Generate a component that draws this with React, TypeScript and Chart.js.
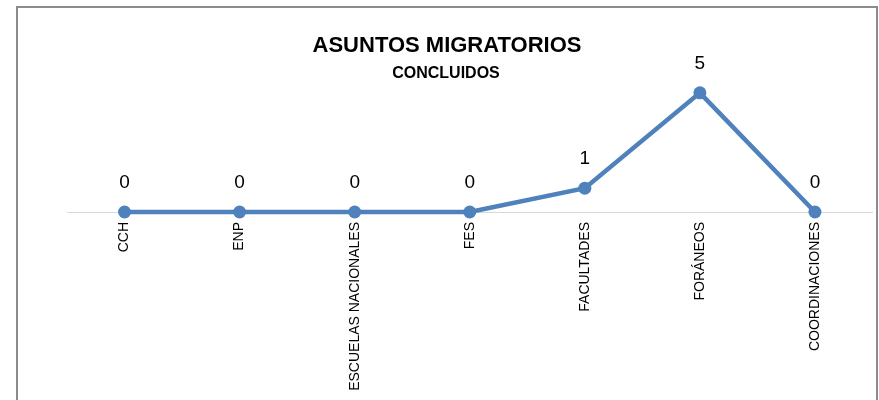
import React, { useEffect, useRef } from "react";
import { Chart, registerables } from "chart.js";

Chart.register(...registerables);

const categories = ["CCH", "ENP", "ESCUELAS NACIONALES", "FES", "FACULTADES", "FORÁNEOS", "COORDINACIONES"];
const values = [0, 0, 0, 0, 1, 5, 0];
const titleText = "ASUNTOS MIGRATORIOS";
const subtitleText = "CONCLUIDOS";

const FONT = "'Liberation Sans', Arial, sans-serif";
const BLUE = "#4F81BD";

const titlesPlugin = {
  id: "titles",
  afterDraw(chart: any) {
    const ctx = chart.ctx;
    ctx.save();
    ctx.fillStyle = "#000";
    ctx.textAlign = "center";
    ctx.textBaseline = "alphabetic";
    ctx.font = `bold 22px ${FONT}`;
    ctx.fillText(titleText, 447, 52);
    ctx.font = `bold 16px ${FONT}`;
    ctx.fillText(subtitleText, 446, 78);
    ctx.restore();
  },
};

const dataLabelsPlugin = {
  id: "dataLabels",
  afterDatasetsDraw(chart: any) {
    const ctx = chart.ctx;
    const meta = chart.getDatasetMeta(0);
    const data = chart.data.datasets[0].data;
    ctx.save();
    ctx.fillStyle = "#000";
    ctx.textAlign = "center";
    ctx.textBaseline = "alphabetic";
    ctx.font = `19px ${FONT}`;
    meta.data.forEach((pt: any, i: number) => {
      ctx.fillText(String(data[i]), pt.x, pt.y - 24);
    });
    ctx.restore();
  },
};

export default function App() {
  const ref = useRef<HTMLCanvasElement | null>(null);
  useEffect(() => {
    if (!ref.current) return;
    const chart = new Chart(ref.current, {
      type: "line",
      data: {
        labels: categories,
        datasets: [
          {
            data: values,
            borderColor: BLUE,
            backgroundColor: BLUE,
            borderWidth: 4.5,
            pointRadius: 6.5,
            pointHoverRadius: 6.5,
            pointBackgroundColor: BLUE,
            pointBorderColor: BLUE,
            pointBorderWidth: 0,
            tension: 0,
            clip: false as any,
          },
        ],
      },
      options: {
        responsive: false,
        animation: false,
        devicePixelRatio: 1,
        layout: { padding: { left: 67, right: 2, top: 69, bottom: 0 } },
        plugins: {
          legend: { display: false },
          title: { display: false },
          tooltip: { enabled: false },
        },
        scales: {
          x: {
            offset: true,
            grid: { display: false },
            border: { display: true, color: "#d9d9d9", width: 1 },
            ticks: {
              minRotation: 90,
              maxRotation: 90,
              autoSkip: false,
              padding: 2,
              color: "#000",
              font: { family: FONT, size: 14 },
            },
            afterFit: (scale: any) => {
              scale.height = 188;
              scale.paddingLeft = 0;
              scale.paddingRight = 0;
            },
          },
          y: {
            display: false,
            min: 0,
            max: 6,
          },
        },
      },
      plugins: [titlesPlugin, dataLabelsPlugin],
    });
    return () => chart.destroy();
  }, []);

  return (
    <div style={{ position: "absolute", left: 0, top: 0, width: 879, height: 400, overflow: "hidden", background: "#fff" }}>
      <div
        style={{
          position: "absolute",
          left: 16,
          top: 6,
          width: 862,
          height: 420,
          border: "2px solid #8c8c8c",
          boxSizing: "border-box",
        }}
      />
      <canvas ref={ref} width={879} height={400} style={{ position: "absolute", left: 0, top: 0 }} />
    </div>
  );
}
